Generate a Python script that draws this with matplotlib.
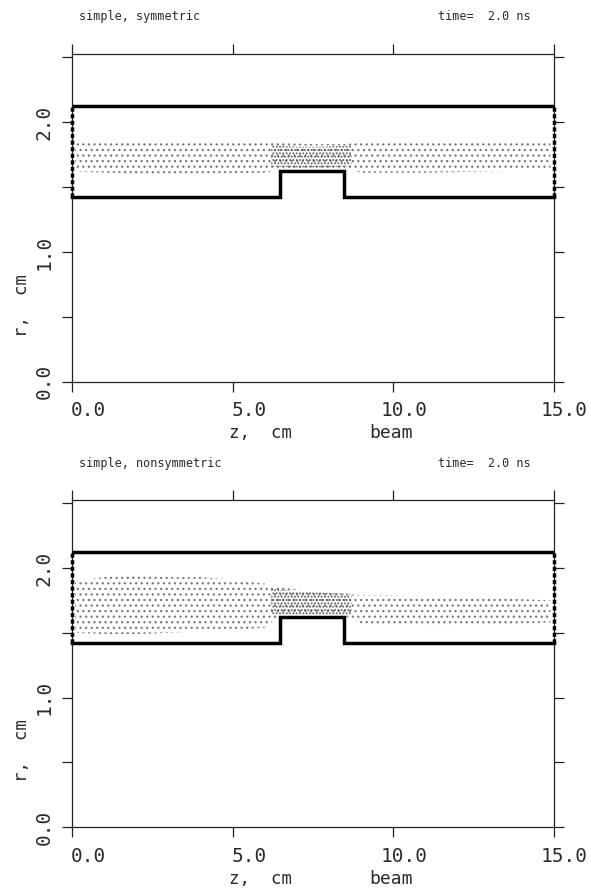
import numpy as np
import matplotlib
matplotlib.use('Agg')
import matplotlib.pyplot as plt
import matplotlib.transforms as mtransforms

# wall geometry (cm)
z_wall = [0.0, 6.48, 6.48, 8.48, 8.48, 15.0]
r_wall = [1.425, 1.425, 1.625, 1.625, 1.425, 1.425]
r_outer = 2.12

# particle band edges, symmetric case
z_sym = [0.1, 2.0, 4.0, 6.0, 6.5, 7.5, 8.5, 9.0, 11.0, 13.0, 14.9]
hi_sym = [1.85, 1.86, 1.85, 1.86, 1.84, 1.83, 1.83, 1.85, 1.85, 1.85, 1.84]
lo_sym = [1.62, 1.60, 1.60, 1.61, 1.63, 1.65, 1.64, 1.61, 1.61, 1.62, 1.63]
z_sym_core = [6.2, 7.0, 7.8, 8.7]
hi_sym_core = [1.82, 1.81, 1.81, 1.82]
lo_sym_core = [1.66, 1.65, 1.65, 1.66]

# particle band edges, nonsymmetric case
z_non = [0.1, 1.0, 2.0, 3.0, 4.0, 5.0, 6.0, 6.5, 7.5, 8.5, 9.0, 10.0, 11.0, 12.0, 13.0, 14.0, 14.9]
hi_non = [1.90, 1.93, 1.94, 1.93, 1.93, 1.91, 1.88, 1.85, 1.82, 1.80, 1.79, 1.79, 1.78, 1.78, 1.77, 1.76, 1.75]
lo_non = [1.50, 1.49, 1.49, 1.50, 1.51, 1.52, 1.54, 1.64, 1.64, 1.63, 1.57, 1.56, 1.55, 1.55, 1.56, 1.57, 1.58]
z_non_core = [6.2, 7.0, 7.8, 8.7]
hi_non_core = [1.84, 1.82, 1.81, 1.80]
lo_non_core = [1.64, 1.64, 1.64, 1.64]

xticks = [0, 5, 10, 15]
xticklabels = ['0.0', '5.0', '10.0', '15.0']
yticks = [0.0, 0.5, 1.0, 1.5, 2.0, 2.5]
yticklabels = ['0.0', '', '1.0', '', '2.0', '']

titles = ['simple, symmetric', 'simple, nonsymmetric']
bands = [(z_sym, hi_sym, lo_sym, z_sym_core, hi_sym_core, lo_sym_core),
         (z_non, hi_non, lo_non, z_non_core, hi_non_core, lo_non_core)]

plt.rcParams['font.family'] = ['DejaVu Sans Mono']
plt.rcParams['hatch.linewidth'] = 0.9
txt = '#2b2b2b'

fig = plt.figure(figsize=(5.91, 8.92), dpi=100)
W, H = 591.0, 892.0
boxes = [(72, 54.3, 553.7, 381.7), (72, 500.3, 553.7, 827.3)]

for i in range(2):
    x0, y0, x1, y1 = boxes[i]
    ax = fig.add_axes([x0 / W, 1 - y1 / H, (x1 - x0) / W, (y1 - y0) / H])
    ax.set_xlim(0, 15)
    ax.set_ylim(0, 2.522)

    z, hi, lo, zc, hic, loc = bands[i]
    ax.fill_between(z, lo, hi, facecolor='none', edgecolor='#7a7a7a',
                    hatch='...', linewidth=0)
    ax.fill_between(zc, loc, hic, facecolor='none', edgecolor='#5a5a5a',
                    hatch='.....', linewidth=0)

    # wall outline
    ax.plot([0, 15], [r_outer, r_outer], color='black', lw=2.5,
            solid_capstyle='butt', clip_on=False, zorder=5)
    ax.plot(z_wall, r_wall, color='black', lw=2.5, solid_joinstyle='miter',
            clip_on=False, zorder=5)
    for zz in [0, 15]:
        ax.plot([zz, zz], [r_wall[0], r_outer], color='black', lw=2.5,
                ls=(0, (1.2, 0.7)), clip_on=False, zorder=5)

    for s in ax.spines.values():
        s.set_linewidth(0.9)
        s.set_color('#222222')
    ax.tick_params(direction='out', length=7.2, width=0.9, color='#222222',
                   labelcolor=txt, top=True, right=True)
    ax.set_xticks(xticks)
    ax.set_xticklabels(xticklabels, fontsize=14)
    ax.set_yticks(yticks)
    ax.set_yticklabels(yticklabels, fontsize=14, rotation=90, va='center')
    ax.tick_params(axis='x', pad=7)
    ax.tick_params(axis='y', pad=6)
    for lab in ax.get_xticklabels():
        lab.set_horizontalalignment('right')
        lab.set_transform(lab.get_transform() +
                          mtransforms.ScaledTranslation(0.34, 0, fig.dpi_scale_trans))

    ax.text(0.392, -0.157, 'z,  cm', transform=ax.transAxes, fontsize=12.5,
            ha='center', va='center', color=txt)
    ax.text(0.662, -0.157, 'beam', transform=ax.transAxes, fontsize=13,
            ha='center', va='center', color=txt)
    ax.text(-0.104, 0.234, 'r,  cm', transform=ax.transAxes, fontsize=12.5,
            ha='center', va='center', rotation=90, color=txt)
    ax.text(0.0145, 1.114, titles[i], transform=ax.transAxes, fontsize=8.5,
            ha='left', va='center', color=txt)
    ax.text(0.953, 1.114, 'time=  2.0 ns', transform=ax.transAxes, fontsize=8.5,
            ha='right', va='center', color=txt)

fig.savefig('out.png', dpi=100)
